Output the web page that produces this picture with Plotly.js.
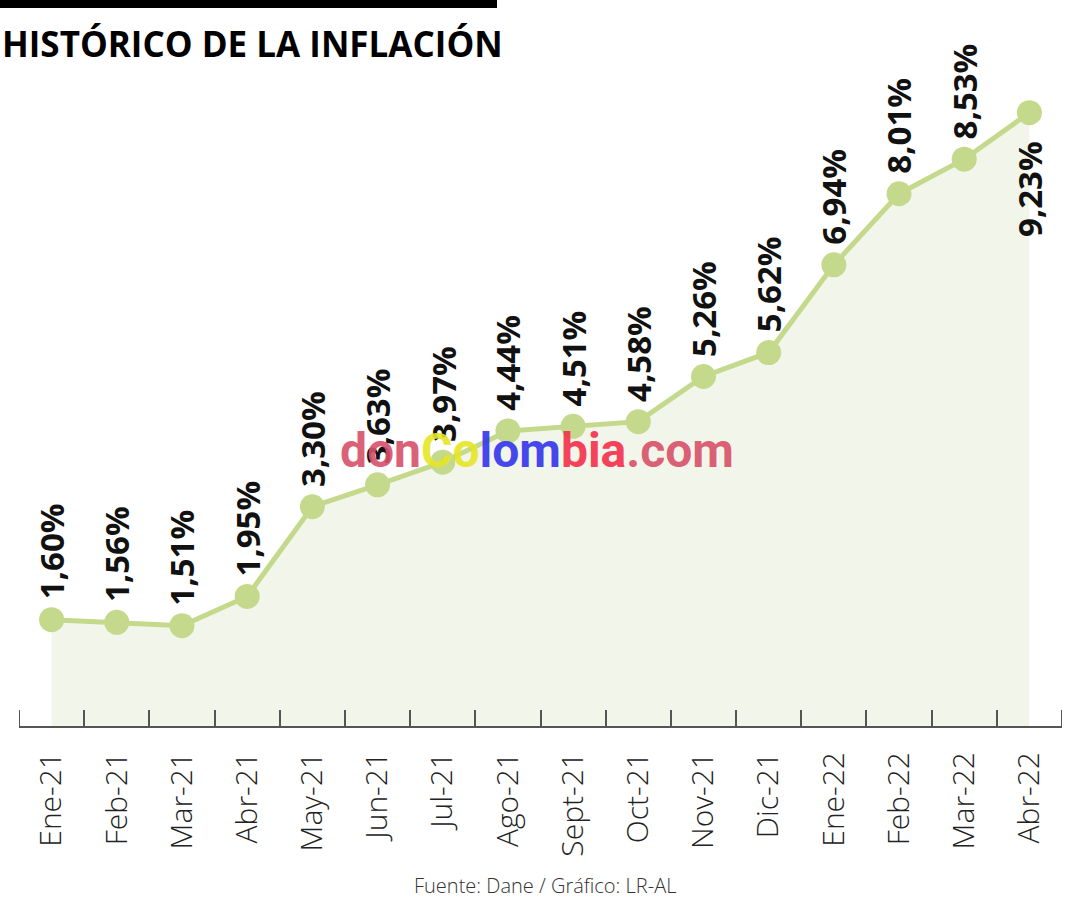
<!DOCTYPE html>
<html>
<head>
<meta charset="utf-8">
<script src="https://cdn.plot.ly/plotly-3.0.1.min.js"></script>
<style>html,body{margin:0;padding:0;background:#fff;}#chart{width:1080px;height:900px;}</style>
</head>
<body>
<div id="chart"></div>
<script>
const months = ["Ene-21","Feb-21","Mar-21","Abr-21","May-21","Jun-21","Jul-21","Ago-21","Sept-21","Oct-21","Nov-21","Dic-21","Ene-22","Feb-22","Mar-22","Abr-22"];
const inflation = [1.60,1.56,1.51,1.95,3.30,3.63,3.97,4.44,4.51,4.58,5.26,5.62,6.94,8.01,8.53,9.23];
const titleText = "HISTÓRICO DE LA INFLACIÓN";
const sourceText = "Fuente: Dane / Gráfico: LR-AL";

const W = 1080, H = 900;
const M = {l: 19, r: 18, t: 90, b: 174};
const plotW = W - M.l - M.r, plotH = H - M.t - M.b;
const px2x = p => (p - M.l) / plotW;
const px2y = p => (H - M.b - p) / plotH;

const lineColor = "#c4d98b";
const fmt = v => v.toFixed(2).replace(".", ",") + "%";

const labelAnns = months.map((m, i) => {
  const last = i === months.length - 1;
  return {
    x: m, y: inflation[i], xref: "x", yref: "y",
    text: fmt(inflation[i]), showarrow: false, textangle: -90,
    xanchor: "center", yanchor: last ? "top" : "bottom",
    yshift: last ? -26 : 18,
    font: {family: "Open Sans", size: 33, weight: 700, color: "#111"}
  };
});

const trace = {
  x: months, y: inflation, type: "scatter", mode: "lines+markers",
  fill: "tozeroy", fillcolor: "#f2f6ea",
  line: {color: lineColor, width: 5},
  marker: {color: lineColor, size: 25},
  hoverinfo: "skip", cliponaxis: false
};

const edgeTick = xv => ({
  type: "line", xref: "x", yref: "paper", x0: xv, x1: xv, y0: 0, y1: 16 / plotH,
  line: {color: "#555", width: 2}
});

const layout = {
  width: W, height: H,
  margin: M,
  paper_bgcolor: "#fff", plot_bgcolor: "#fff",
  showlegend: false,
  title: {
    text: titleText, xref: "container", yref: "container",
    x: 2 / W, xanchor: "left", y: 1 - 45 / H, yanchor: "middle",
    font: {family: "Open Sans", size: 35, weight: 700, color: "#000"}
  },
  xaxis: {
    type: "category", range: [-0.5, 15.5], fixedrange: true,
    tickson: "boundaries", ticks: "inside", ticklen: 16, tickwidth: 2, tickcolor: "#555",
    showline: true, linecolor: "#555", linewidth: 2, showgrid: false, zeroline: false,
    tickangle: -90, ticklabelstandoff: 12,
    tickfont: {family: "Open Sans", size: 30, weight: 300, color: "#222"}
  },
  yaxis: {
    range: [0, (plotH) / 66.45], visible: false, showgrid: false, zeroline: false, fixedrange: true
  },
  shapes: [{
    type: "rect", xref: "paper", yref: "paper",
    x0: px2x(0), x1: px2x(497), y0: px2y(8), y1: px2y(0),
    fillcolor: "#000", line: {width: 0}
  }, edgeTick(-0.5), edgeTick(15.5)],
  annotations: labelAnns.concat([
    {
      xref: "paper", yref: "paper", x: px2x(545), y: px2y(885),
      xanchor: "center", yanchor: "middle", showarrow: false,
      text: sourceText, font: {family: "Open Sans", size: 20, weight: 300, color: "#333"}
    },
    {
      xref: "paper", yref: "paper", x: px2x(537), y: px2y(450),
      xanchor: "center", yanchor: "middle", showarrow: false, opacity: 0.9,
      text: '<span style="color:#d8506a">don</span><span style="color:#e6e626">Co</span><span style="color:#3434ee">lom</span><span style="color:#f52f4c">bia</span><span style="color:#d8506a">.com</span>',
      font: {family: "Roboto", size: 48, weight: 700}
    }
  ])
};

Plotly.newPlot("chart", [trace], layout, {displayModeBar: false, staticPlot: true});
</script>
</body>
</html>
